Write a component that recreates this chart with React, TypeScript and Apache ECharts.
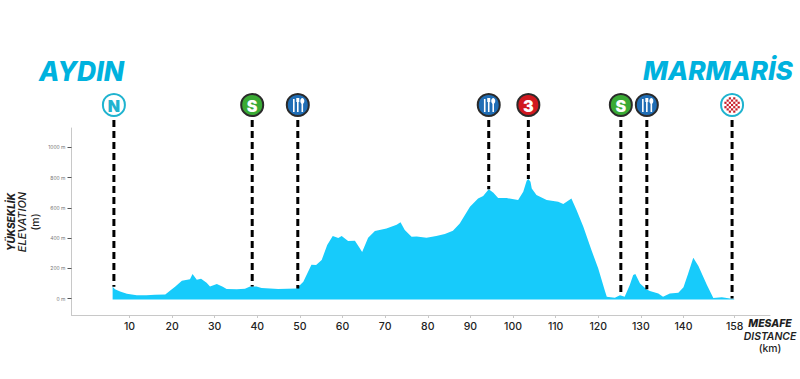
import React, { useEffect, useRef } from "react";
import * as echarts from "echarts";

const profileKm = [6.05,6.6,7.8,9.4,11.7,14,16,18.4,19.5,20.7,22.3,24.2,24.8,25.8,26.8,28.1,28.9,30.5,31.9,32.8,35.2,37.1,38.3,39.8,41,43,44.9,49.2,50.8,52.7,53.8,55.1,56.4,57.7,59,59.8,61.3,62.9,63.9,64.6,66,67.6,70.3,72.7,73.6,74.6,76.2,77.4,79.7,82,84,85.9,87.5,89.9,91.8,93,94.3,95.4,96.5,98.5,101.2,102.4,103.2,103.6,104.1,104.4,105.5,107.9,110.6,111.8,113.7,114.9,116.5,118.4,120,121.5,122,123.9,125.1,126.2,127.4,128.2,128.7,129.8,131.3,132.1,134.1,135.2,136.8,138.8,140,141.1,142.3,143.5,145.5,147,149,150.9,151.9];
const profileElevation = [79,62,48,33,22,22,26,28,52,79,119,128,163,125,132,106,81,97,79,64,62,66,81,81,70,68,64,68,112,224,222,255,354,414,400,414,381,383,339,308,403,447,464,488,504,453,409,411,403,414,427,449,497,607,662,678,722,700,664,664,651,706,779,790,772,728,684,651,640,625,662,585,475,321,200,57,13,7,22,13,90,156,163,101,62,51,35,13,35,40,75,167,271,216,90,4,9,2,0];

const xTickValues = [10,20,30,40,50,60,70,80,90,100,110,120,130,140,152];
const xTickLabels = ["10","20","30","40","50","60","70","80","90","100","110","120","130","140","158"];
const yTickValues = [0,200,400,600,800,1000];
const yTickLabels = ["0 m","200 m","400 m","600 m","800 m","1000 m"];

const markerKm = [6.35,38.8,49.5,94.3,103.6,125.3,131.4,151.4];
const markerElevation = [79,81,68,722,790,22,62,2];
const markerKind = ["N","S","F","F","3","S","F","C"];

const FONT = "Inter, 'Open Sans', sans-serif";
const TEAL = "#00b2de";
const MARKER_Y = 105;
const LINE_TOP = 120;

function markerChildren(kind: string, cx: number, cy: number) {
  const kids: any[] = [];
  const fill = kind === "S" ? "#3aaa35" : kind === "F" ? "#1f6db5" : kind === "3" ? "#d0181f" : "#ffffff";
  const ring = kind === "N" || kind === "C" ? "#1fb3cf" : "#2a2a2a";
  kids.push({ type: "circle", shape: { cx, cy, r: 11 }, style: { fill, stroke: ring, lineWidth: 2 } });
  if (kind === "N" || kind === "S" || kind === "3") {
    kids.push({
      type: "text",
      style: {
        text: kind, x: cx, y: cy + 0.5, align: "center", verticalAlign: "middle",
        fill: kind === "N" ? "#1fb3cf" : "#ffffff", fontFamily: FONT, fontWeight: 900, fontSize: 16,
      },
    });
  } else if (kind === "F") {
    const st = { stroke: "#ffffff", lineWidth: 1.6, fill: "none" };
    kids.push({ type: "line", shape: { x1: cx - 4, y1: cy - 6, x2: cx - 4, y2: cy + 7 }, style: st });
    kids.push({ type: "line", shape: { x1: cx, y1: cy - 3, x2: cx, y2: cy + 7 }, style: st });
    kids.push({ type: "line", shape: { x1: cx + 4.5, y1: cy - 2, x2: cx + 4.5, y2: cy + 7 }, style: st });
    kids.push({ type: "ellipse", shape: { cx: cx + 4.5, cy: cy - 4, rx: 2, ry: 3 }, style: { fill: "#ffffff" } });
    kids.push({ type: "rect", shape: { x: cx - 1.5, y: cy - 7, width: 3, height: 4 }, style: { fill: "#ffffff" } });
  } else {
    const s = 2.2;
    for (let r = -3; r <= 3; r++) {
      for (let c = -3; c <= 3; c++) {
        if ((r + c + 6) % 2 === 0 && r * r + c * c <= 13) {
          kids.push({ type: "rect", shape: { x: cx + c * s - s / 2, y: cy + r * s - s / 2, width: s, height: s }, style: { fill: "#c8202a" } });
        }
      }
    }
  }
  return kids;
}

export default function App() {
  const ref = useRef<HTMLDivElement>(null);
  useEffect(() => {
    document.body.style.margin = "0";
    const chart = echarts.init(ref.current!, undefined, { renderer: "svg" });
    const sideText = (text: string, x: number, y: number, size: number, weight: number, italic: boolean, rotate = false) => ({
      type: "text", x, y, rotation: rotate ? Math.PI / 2 : 0,
      style: {
        text, x: 0, y: 0, align: "center", verticalAlign: "middle", fill: "#1f1f1f",
        fontFamily: FONT, fontSize: size, fontWeight: weight, fontStyle: italic ? "italic" : "normal",
      },
    });
    chart.setOption({
      animation: false,
      backgroundColor: "#ffffff",
      grid: { left: 71.5, right: 30, top: 128, bottom: 64 },
      xAxis: {
        type: "value", min: -3.6, max: 160.3, splitLine: { show: false },
        axisLine: { show: true, onZero: false, lineStyle: { color: "#c8c8c8", width: 1 } },
        axisTick: { show: true, customValues: xTickValues, length: 3, lineStyle: { color: "#c8c8c8" } },
        axisLabel: {
          customValues: xTickValues, margin: 6, color: "#222", fontFamily: FONT, fontSize: 10.5, fontWeight: 500,
          formatter: (v: number) => xTickLabels[xTickValues.indexOf(v)] ?? "",
        },
      },
      yAxis: {
        type: "value", min: -107.7, max: 1127, splitLine: { show: false },
        axisLine: { show: true, onZero: false, lineStyle: { color: "#c8c8c8", width: 1 } },
        axisTick: { show: true, customValues: yTickValues, length: 4, lineStyle: { color: "#555" } },
        axisLabel: {
          customValues: yTickValues, margin: 6, color: "#777", fontFamily: FONT, fontSize: 5,
          formatter: (v: number) => yTickLabels[yTickValues.indexOf(v)] ?? "",
        },
      },
      series: [
        {
          type: "line", showSymbol: false, symbol: "none", silent: true,
          data: profileKm.map((k, i) => [k, profileElevation[i]]),
          lineStyle: { width: 0 },
          areaStyle: { color: "#17cbfb", opacity: 1, origin: -6 },
          z: 2,
        },
        {
          type: "custom", silent: true, clip: false, z: 3,
          data: markerKm.map((k, i) => [k, markerElevation[i], i]),
          encode: { x: 0, y: 1 },
          renderItem: (_: any, api: any) => {
            const [x, y] = api.coord([api.value(0), api.value(1)]);
            const kind = markerKind[api.value(2)];
            return {
              type: "group",
              children: [
                { type: "line", shape: { x1: x, y1: LINE_TOP, x2: x, y2: y }, style: { stroke: "#000000", lineWidth: 3, lineDash: [7, 4], fill: "none" } },
                ...markerChildren(kind, x, MARKER_Y),
              ],
            };
          },
        },
      ],
      graphic: [
        { type: "text", x: 81.5, y: 70.5, style: { text: "AYDIN", x: 0, y: 0, align: "center", verticalAlign: "middle", fill: TEAL, fontFamily: FONT, fontSize: 26.5, fontWeight: 800, fontStyle: "italic" } },
        { type: "text", x: 718, y: 70.5, style: { text: "MARMARİS", x: 0, y: 0, align: "center", verticalAlign: "middle", fill: TEAL, fontFamily: FONT, fontSize: 26.3, fontWeight: 800, fontStyle: "italic" } },
        { ...sideText("YÜKSEKLİK", 11, 222, 10, 800, true, true) },
        { ...sideText("ELEVATION", 22, 222, 11, 500, true, true) },
        { ...sideText("(m)", 35, 222, 10.5, 500, false, true) },
        { ...sideText("MESAFE", 770, 323, 10.4, 800, true) },
        { ...sideText("DISTANCE", 770, 336, 10.4, 600, true) },
        { ...sideText("(km)", 770, 348, 10.4, 500, false) },
      ],
    });
    return () => chart.dispose();
  }, []);
  return <div ref={ref} style={{ position: "absolute", left: 0, top: 0, width: 800, height: 379 }} />;
}
